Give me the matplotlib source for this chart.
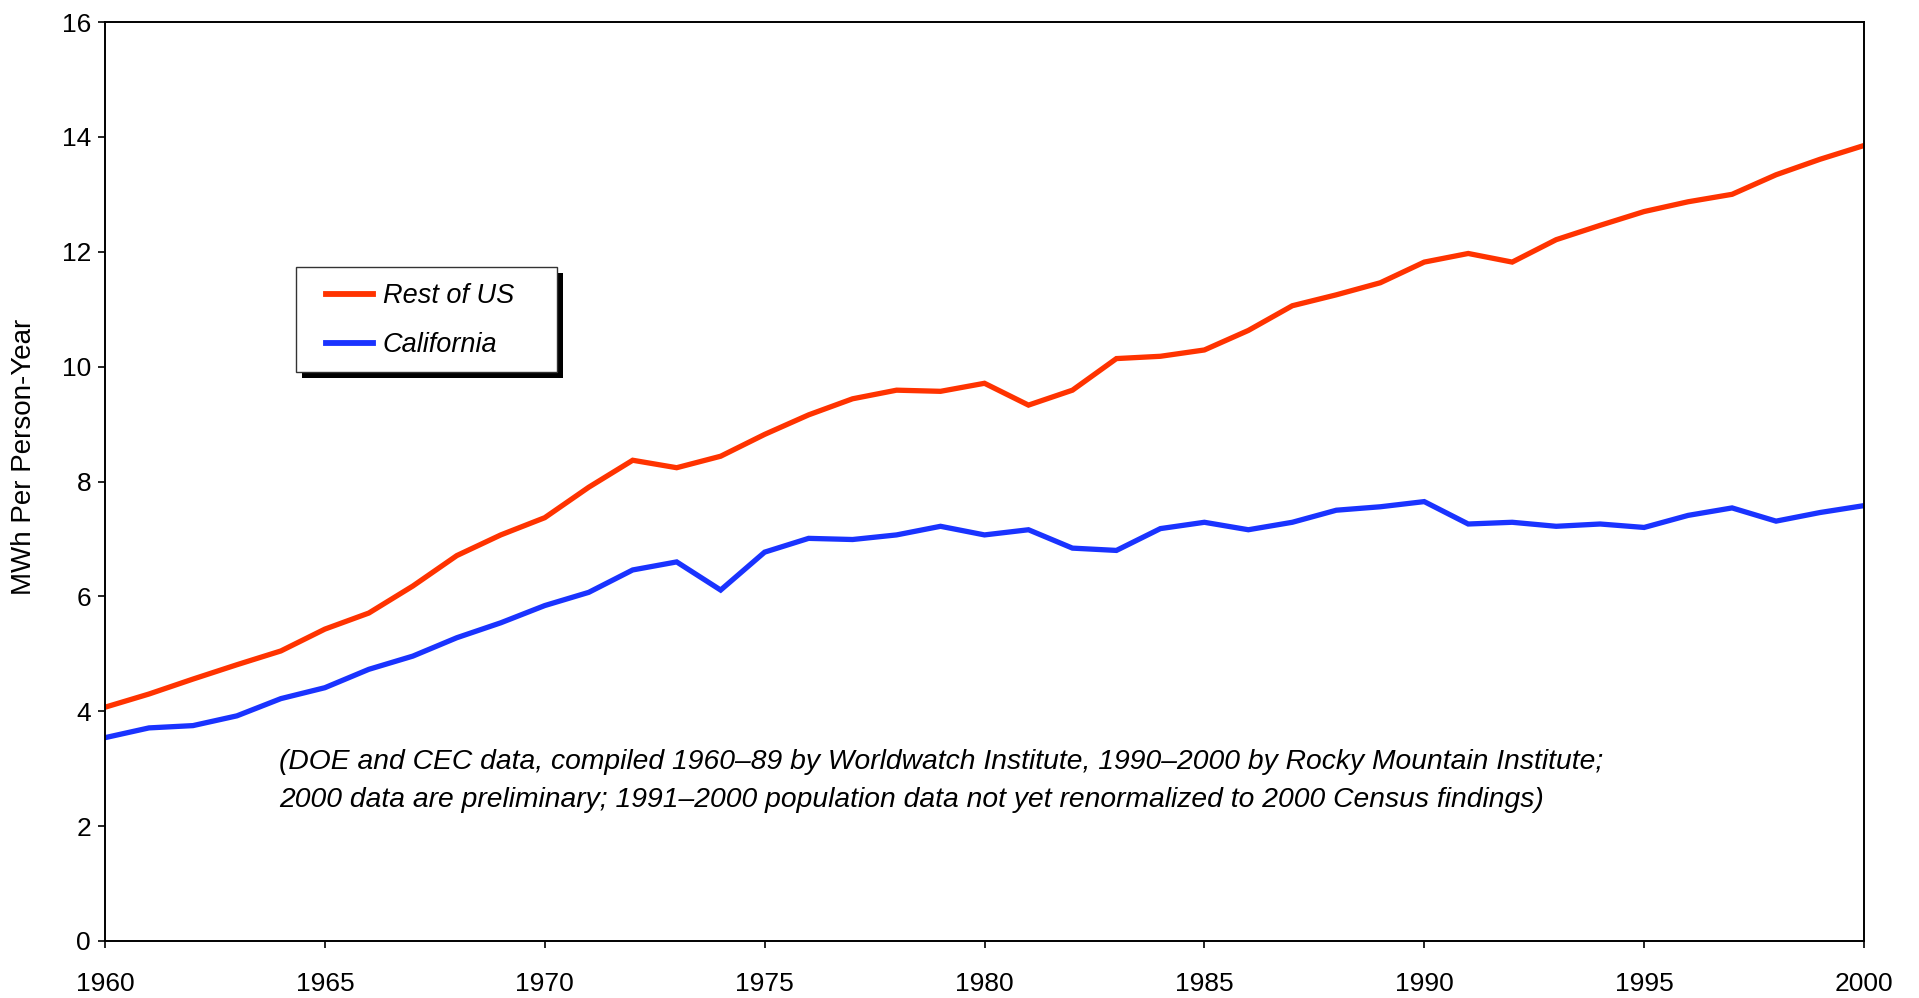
import matplotlib
matplotlib.use("Agg")
import matplotlib.pyplot as plt
from matplotlib.patches import Rectangle

plt.rcParams['font.family'] = ['Liberation Sans', 'DejaVu Sans']

years = list(range(1960, 2001))
rest_of_us = [4.07, 4.30, 4.56, 4.81, 5.05, 5.43, 5.71, 6.18, 6.71, 7.07,
              7.37, 7.90, 8.37, 8.24, 8.44, 8.82, 9.16, 9.44, 9.59, 9.57,
              9.71, 9.33, 9.59, 10.14, 10.18, 10.29, 10.63, 11.06, 11.25, 11.46,
              11.82, 11.97, 11.82, 12.21, 12.46, 12.70, 12.87, 13.00, 13.34, 13.61,
              13.85]
california = [3.54, 3.71, 3.75, 3.92, 4.22, 4.41, 4.73, 4.96, 5.28, 5.54,
              5.84, 6.07, 6.46, 6.60, 6.11, 6.77, 7.01, 6.99, 7.07, 7.22,
              7.07, 7.16, 6.84, 6.80, 7.18, 7.29, 7.16, 7.29, 7.50, 7.56,
              7.65, 7.26, 7.29, 7.22, 7.26, 7.20, 7.41, 7.54, 7.31, 7.46,
              7.58]
x_ticks = [1960, 1965, 1970, 1975, 1980, 1985, 1990, 1995, 2000]
y_ticks = [0, 2, 4, 6, 8, 10, 12, 14, 16]
note_lines = [
    "(DOE and CEC data, compiled 1960\u201389 by Worldwatch Institute, 1990\u20132000 by Rocky Mountain Institute;",
    "2000 data are preliminary; 1991\u20132000 population data not yet renormalized to 2000 Census findings)",
]

fig = plt.figure(figsize=(19.19, 9.98), dpi=100)
ax = fig.add_axes([105/1919, 57/998, 1759/1919, 919/998])

ax.plot(years, rest_of_us, color='#FF3300', lw=3.8, label='Rest of US', solid_joinstyle='miter')
ax.plot(years, california, color='#1A33FF', lw=3.8, label='California', solid_joinstyle='miter')

ax.set_xlim(1960, 2000)
ax.set_ylim(0, 16)
ax.set_xticks(x_ticks)
ax.set_yticks(y_ticks)
ax.tick_params(axis='both', direction='out', length=5, width=1.2, labelsize=19)
ax.tick_params(axis='x', pad=17)
ax.tick_params(axis='y', pad=5)
for s in ax.spines.values():
    s.set_linewidth(1.4)
ax.set_ylabel('MWh Per Person-Year', fontsize=20)
ax.yaxis.set_label_coords(-0.0385, 0.5266)

ax.text(1963.95, 3.11, note_lines[0], fontsize=20.3, style='italic', va='center', ha='left')
ax.text(1963.95, 2.45, note_lines[1], fontsize=20.3, style='italic', va='center', ha='left')

# legend box with hard black shadow
bx0, bx1, by0, by1 = 0.1087, 0.2569, 0.6190, 0.7336
fig.canvas.draw()
p0 = ax.transAxes.transform((bx0, by0))
p1 = ax.transAxes.transform((bx1, by1))
off = 6
ax.add_patch(Rectangle((p0[0] + off, p0[1] - off), p1[0] - p0[0], p1[1] - p0[1],
                       transform=None, facecolor='black', edgecolor='none',
                       zorder=4, clip_on=False))
ax.add_patch(Rectangle((bx0, by0), bx1 - bx0, by1 - by0, transform=ax.transAxes,
                       facecolor='white', edgecolor='#333333', lw=1.0,
                       zorder=4.5, clip_on=False))

leg = ax.legend(loc='center left', bbox_to_anchor=(0.1254, 0.6750), borderaxespad=0,
                borderpad=0, frameon=False,
                prop={'size': 19.5, 'style': 'italic'}, handlelength=1.76,
                handletextpad=0.36, labelspacing=0.84)
leg.set_zorder(5)
for h in leg.get_lines():
    h.set_linewidth(4.2)

fig.savefig('out.png', dpi=100)
